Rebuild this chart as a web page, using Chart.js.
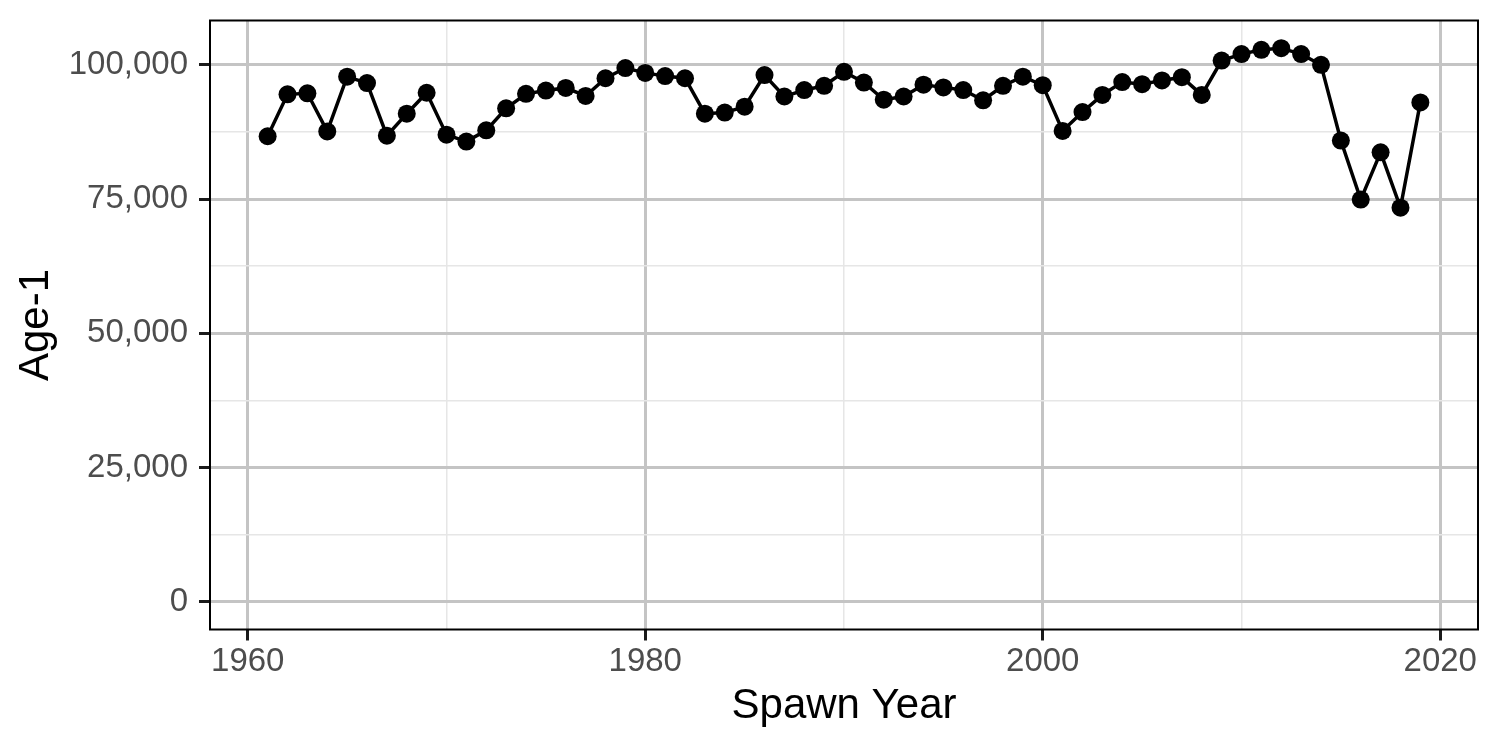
<!DOCTYPE html>
<html>
<head>
<meta charset="utf-8">
<title>Age-1 by Spawn Year</title>
<script src="https://cdn.jsdelivr.net/npm/chart.js@4.4.1/dist/chart.umd.min.js"></script>
<style>
  html, body { margin: 0; padding: 0; background: #ffffff; }
  #wrap { width: 1500px; height: 750px; }
</style>
</head>
<body>
<div id="wrap"><canvas id="chart" width="1500" height="750"></canvas></div>
<script>
// ============================================
// DATA
// ============================================
const spawnYears = [
  1961, 1962, 1963, 1964, 1965, 1966, 1967, 1968, 1969, 1970,
  1971, 1972, 1973, 1974, 1975, 1976, 1977, 1978, 1979, 1980,
  1981, 1982, 1983, 1984, 1985, 1986, 1987, 1988, 1989, 1990,
  1991, 1992, 1993, 1994, 1995, 1996, 1997, 1998, 1999, 2000,
  2001, 2002, 2003, 2004, 2005, 2006, 2007, 2008, 2009, 2010,
  2011, 2012, 2013, 2014, 2015, 2016, 2017, 2018, 2019
];
const age1Values = [
  86700, 94500, 94700, 87600, 97800, 96600, 86800, 90900, 94800, 87000,
  85700, 87800, 91900, 94600, 95200, 95700, 94200, 97500, 99400, 98500,
  97900, 97500, 90900, 91100, 92200, 98100, 94100, 95300, 96100, 98700,
  96700, 93500, 94100, 96300, 95800, 95300, 93400, 96100, 97800, 96200,
  87700, 91200, 94400, 96800, 96400, 97100, 97700, 94400, 100800, 102000,
  102800, 103100, 102000, 100000, 85900, 74900, 83700, 73400, 93000
];

// tick values (major get labels, minor only get light grid lines)
const xMajorTicks = [1960, 1980, 2000, 2020];
const xMinorTicks = [1970, 1990, 2010];
const yMajorTicks = [0, 25000, 50000, 75000, 100000];
const yMinorTicks = [12500, 37500, 62500, 87500];

// ============================================
// STYLE
// ============================================
const FONT = "'Liberation Sans', Arial, Helvetica, sans-serif";
const MAJOR_GRID = '#c4c4c4';
const MINOR_GRID = '#e6e6e6';

function gridColor(majors) {
  return (ctx) => (ctx.tick && majors.includes(ctx.tick.value)) ? MAJOR_GRID : MINOR_GRID;
}
function gridWidth(majors) {
  return (ctx) => (ctx.tick && majors.includes(ctx.tick.value)) ? 3 : 1.5;
}
function tickColor(majors) {
  return (ctx) => (ctx.tick && majors.includes(ctx.tick.value)) ? '#1a1a1a' : 'rgba(0,0,0,0)';
}
function setTicks(majors, minors) {
  return (scale) => {
    scale.ticks = majors.concat(minors).sort((a, b) => a - b).map(v => ({ value: v }));
  };
}

// panel border drawn on top, like ggplot's theme_bw
const panelBorder = {
  id: 'panelBorder',
  afterDraw(chart) {
    const { ctx, chartArea: a } = chart;
    ctx.save();
    ctx.strokeStyle = '#000000';
    ctx.lineWidth = 2;
    ctx.strokeRect(a.left, a.top, a.right - a.left, a.bottom - a.top);
    ctx.restore();
  }
};

// ============================================
// CHART
// ============================================
const points = spawnYears.map((yr, i) => ({ x: yr, y: age1Values[i] }));

new Chart(document.getElementById('chart'), {
  type: 'line',
  data: {
    datasets: [{
      label: 'Age-1',
      data: points,
      borderColor: '#000000',
      backgroundColor: '#000000',
      borderWidth: 3.5,
      pointRadius: 9,
      pointHoverRadius: 9,
      pointBorderWidth: 0,
      tension: 0,
      fill: false
    }]
  },
  options: {
    responsive: false,
    devicePixelRatio: 1,
    animation: false,
    layout: { padding: { left: 0, right: 22, top: 20.5, bottom: 0 } },
    plugins: {
      legend: { display: false },
      tooltip: { enabled: false }
    },
    scales: {
      x: {
        type: 'linear',
        min: 1958.1,
        max: 2021.9,
        afterBuildTicks: setTicks(xMajorTicks, xMinorTicks),
        afterFit: (scale) => {
          scale.height = 120.5;
          scale.paddingLeft = 0;
          scale.paddingRight = 0;
        },
        grid: {
          color: gridColor(xMajorTicks),
          lineWidth: gridWidth(xMajorTicks),
          tickColor: tickColor(xMajorTicks),
          tickWidth: 3,
          tickLength: 11
        },
        border: { display: false },
        ticks: {
          autoSkip: false,
          maxRotation: 0,
          padding: 2,
          color: '#4d4d4d',
          font: { family: FONT, size: 33 },
          callback: (v) => xMajorTicks.includes(v) ? String(v) : ''
        },
        title: {
          display: true,
          text: 'Spawn Year',
          color: '#000000',
          font: { family: FONT, size: 42 },
          padding: { top: 0, bottom: 18 }
        }
      },
      y: {
        type: 'linear',
        min: -5155,
        max: 108255,
        afterBuildTicks: setTicks(yMajorTicks, yMinorTicks),
        afterFit: (scale) => {
          scale.width = 210;
          scale.paddingTop = 0;
          scale.paddingBottom = 0;
        },
        grid: {
          color: gridColor(yMajorTicks),
          lineWidth: gridWidth(yMajorTicks),
          tickColor: tickColor(yMajorTicks),
          tickWidth: 3,
          tickLength: 11
        },
        border: { display: false },
        ticks: {
          autoSkip: false,
          padding: 11,
          color: '#4d4d4d',
          font: { family: FONT, size: 33 },
          callback: (v) => yMajorTicks.includes(v) ? v.toLocaleString('en-US') : ''
        },
        title: {
          display: true,
          text: 'Age-1',
          color: '#000000',
          font: { family: FONT, size: 42 },
          padding: { top: 11.5, bottom: 0 }
        }
      }
    }
  },
  plugins: [panelBorder]
});
</script>
</body>
</html>
